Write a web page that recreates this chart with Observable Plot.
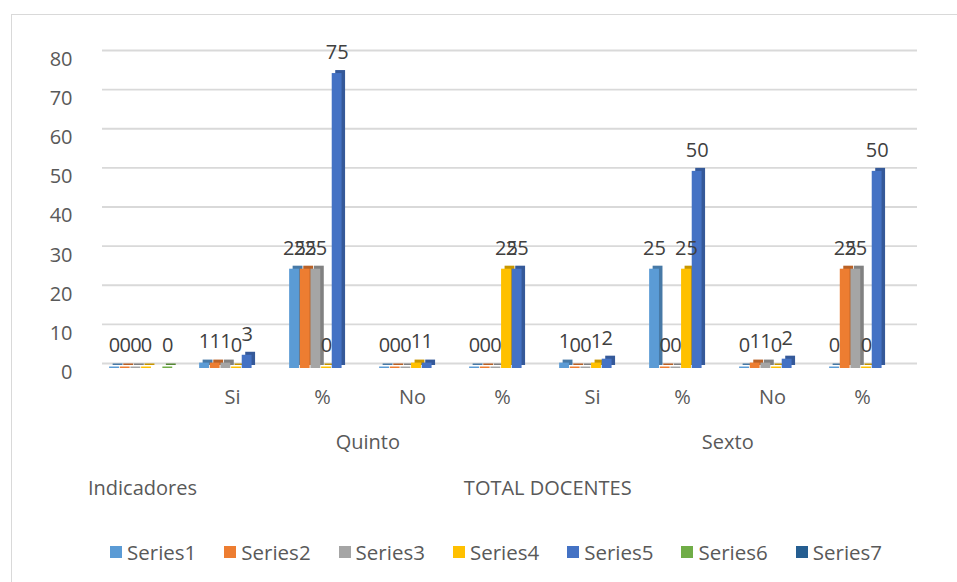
<!DOCTYPE html>
<html><head><meta charset="utf-8">
<script src="https://cdn.jsdelivr.net/npm/d3@7"></script>
<script src="https://cdn.jsdelivr.net/npm/@observablehq/plot@0.6"></script>
<style>
html,body{margin:0;padding:0;background:#fff;overflow:hidden;}
#wrap{position:relative;width:957px;height:582px;font-family:"Open Sans",sans-serif;}
#border{position:absolute;left:11px;top:14px;width:960px;height:580px;border:1.5px solid #d9d9d9;box-sizing:border-box;}
#chart{position:absolute;left:0;top:0;}
#legend{position:absolute;left:110px;top:538px;display:flex;}
.item{width:114.3px;display:flex;align-items:center;font-size:20.5px;color:#595959;white-space:nowrap;}
.sw{width:12px;height:12px;margin-right:5px;flex:none;}
</style></head>
<body><div id="wrap"><div id="border"></div><div id="chart"></div><div id="legend"></div></div>
<script>
// ---- data ----
const categories = ["", "Si", "%", "No", "%", "Si", "%", "No", "%"];
const level2Groups = [{label: "", n: 1}, {label: "Quinto", n: 4}, {label: "Sexto", n: 4}];
const level3Groups = [{label: "Indicadores", n: 1}, {label: "TOTAL DOCENTES", n: 8}];
const seriesNames = ["Series1", "Series2", "Series3", "Series4", "Series5", "Series6", "Series7"];
const series1 = [0, 1, 25, 0, 0, 1, 25, 0, 0];
const series2 = [0, 1, 25, 0, 0, 0, 0, 1, 25];
const series3 = [0, 1, 25, 0, 0, 0, 0, 1, 25];
const series4 = [0, 0, 0, 1, 25, 1, 25, 0, 0];
const series5 = [null, 3, 75, 1, 25, 2, 50, 2, 50];
const series6 = [0, null, null, null, null, null, null, null, null];
const series7 = [null, null, null, null, null, null, null, null, null];
const seriesColors = ["#5B9BD5", "#ED7D31", "#A5A5A5", "#FFC000", "#4472C4", "#70AD47", "#255E91"];
const yTicks = [0, 10, 20, 30, 40, 50, 60, 70, 80];

// ---- build ----
const allSeries = [series1, series2, series3, series4, series5, series6, series7];
const keys = categories.map((c, i) => "c" + i);
const labelOf = Object.fromEntries(keys.map((k, i) => [k, categories[i]]));

const W = 957, H = 520, mL = 94, mR = 48, mT = 55, mB = 152;
const step = (W - mL - mR) / categories.length;
const slot = 10.65;
const barW = 10.4;
const inset = (step - barW) / 2;
const font = "Open Sans, sans-serif";
const fs = 20;

const marks = [];
marks.push(Plot.ruleY(yTicks, {stroke: "#d9d9d9", strokeWidth: 1.8, dx: 8, dy: -5}));

const seriesRows = allSeries.map((vals, si) =>
  vals.map((v, i) => ({key: keys[i], series: seriesNames[si], value: v})).filter(d => d.value != null));

// side/top faces
seriesRows.forEach((rows, si) => {
  const off = (si - 3) * slot + 4;
  marks.push(Plot.barY(rows, {x: "key", y: "value", fill: d3.color(seriesColors[si]).darker(0.7).formatHex(),
    dx: off + 3.5, dy: -3, insetLeft: inset, insetRight: inset, insetTop: -1.5}));
});
// front faces
seriesRows.forEach((rows, si) => {
  const off = (si - 3) * slot + 4;
  marks.push(Plot.barY(rows, {x: "key", y: "value", fill: seriesColors[si],
    dx: off, insetLeft: inset, insetRight: inset, insetTop: -1.5}));
});
// data labels
seriesRows.forEach((rows, si) => {
  const off = (si - 3) * slot + 4;
  marks.push(Plot.text(rows, {x: "key", y: "value", text: d => String(d.value), dx: off, dy: -22.5,
    fontSize: fs, fill: "#404040"}));
});

// y tick labels
marks.push(Plot.text(yTicks, {y: d => d, text: d => String(d), frameAnchor: "left", textAnchor: "end",
  dx: -22, dy: 4, fontSize: fs, fill: "#595959"}));
// category labels
marks.push(Plot.text(keys, {x: d => d, text: d => labelOf[d], frameAnchor: "bottom", dy: 35,
  fontSize: fs, fill: "#595959"}));

function groupMarks(groups, dy) {
  let start = 0;
  groups.forEach(g => {
    const midKey = keys[start + Math.floor((g.n - 1) / 2)];
    const dx = g.n % 2 === 0 ? step / 2 : 0;
    if (g.label) {
      marks.push(Plot.text([g], {x: () => midKey, text: "label", frameAnchor: "bottom", dx, dy,
        fontSize: fs, fill: "#595959"}));
    }
    start += g.n;
  });
}
groupMarks(level2Groups, 80);
groupMarks(level3Groups, 126);

const chart = Plot.plot({
  width: W, height: H,
  marginLeft: mL, marginRight: mR, marginTop: mT, marginBottom: mB,
  x: {type: "band", domain: keys, paddingInner: 0, paddingOuter: 0, axis: null},
  y: {domain: [0, 80], axis: null},
  style: {fontFamily: font, background: "transparent", overflow: "visible"},
  marks
});
document.getElementById("chart").appendChild(chart);

// legend
const legend = document.getElementById("legend");
seriesNames.forEach((name, i) => {
  const item = document.createElement("div");
  item.className = "item";
  const sw = document.createElement("span");
  sw.className = "sw";
  sw.style.background = seriesColors[i];
  const t = document.createElement("span");
  t.textContent = name;
  item.appendChild(sw); item.appendChild(t);
  legend.appendChild(item);
});
</script>
</body></html>
